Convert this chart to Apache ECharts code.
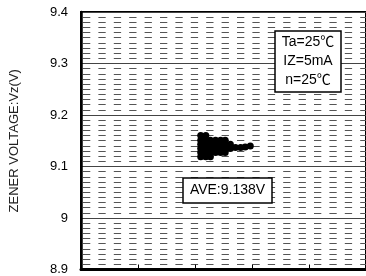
<!DOCTYPE html>
<html>
<head>
<meta charset="utf-8">
<script src="https://cdn.jsdelivr.net/npm/echarts@6/dist/echarts.min.js"></script>
<style>
html,body{margin:0;padding:0;background:#fff;}
#c{width:366px;height:276px;}
</style>
</head>
<body>
<div id="c"></div>
<script>
// y-axis ticks
const yMin = 8.9, yMax = 9.4, yStep = 0.1;
const yTickLabels = ['8.9', '9', '9.1', '9.2', '9.3', '9.4'];
const xMin = 0, xMax = 5, xStep = 1;

// measured points (x position in plot units, Vz in volts)
const dotX = [
  2.10, 2.19,
  2.10, 2.19, 2.27, 2.36, 2.45, 2.53,
  2.10, 2.19, 2.27, 2.36, 2.45, 2.53, 2.62,
  2.10, 2.19, 2.27, 2.36, 2.45, 2.53, 2.62, 2.71, 2.80, 2.88,
  2.10, 2.19, 2.27, 2.36, 2.45, 2.53,
  2.10, 2.19, 2.27,
  2.97
];
const dotY = [
  9.160, 9.160,
  9.151, 9.151, 9.151, 9.151, 9.151, 9.151,
  9.143, 9.143, 9.143, 9.143, 9.143, 9.143, 9.143,
  9.135, 9.135, 9.135, 9.135, 9.135, 9.135, 9.135, 9.137, 9.137, 9.138,
  9.127, 9.127, 9.127, 9.127, 9.127, 9.127,
  9.119, 9.119, 9.119,
  9.140
];

const condLines = ['Ta=25℃', 'IZ=5mA', 'n=25℃'];
const aveText = 'AVE:9.138V';
const yName = 'ZENER VOLTAGE:Vz(V)';

const font = '"Liberation Sans", Arial, "Noto Sans CJK JP", sans-serif';
const chart = echarts.init(document.getElementById('c'), null, {renderer: 'canvas'});

chart.setOption({
  animation: false,
  backgroundColor: '#fff',
  grid: {left: 81, top: 12, width: 288, height: 258, show: true, borderColor: '#000', borderWidth: 2, backgroundColor: 'transparent'},
  xAxis: {
    type: 'value', min: xMin, max: xMax, interval: xStep,
    axisLine: {show: true, onZero: false, lineStyle: {color: '#000', width: 3}},
    axisTick: {show: true, inside: true, length: 5, lineStyle: {color: '#000', width: 1}},
    axisLabel: {show: false},
    splitLine: {show: false}
  },
  yAxis: {
    type: 'value', min: yMin, max: yMax, interval: yStep,
    name: yName, nameLocation: 'middle', nameGap: 60, nameRotate: 90,
    nameTextStyle: {fontFamily: font, fontSize: 13, color: '#222'},
    axisLine: {show: true, lineStyle: {color: '#000', width: 2.5}},
    axisTick: {show: false},
    axisLabel: {
      margin: 13, fontFamily: font, fontSize: 13, color: '#000',
      formatter: function (v) { return yTickLabels[Math.round((v - yMin) / yStep)]; }
    },
    splitLine: {show: true, lineStyle: {color: '#444', width: 1}},
    minorTick: {show: false, splitNumber: 10},
    minorSplitLine: {show: true, lineStyle: {color: '#555', width: 1, type: [7.3, 8.1], dashOffset: -2}}
  },
  series: [{
    type: 'scatter',
    symbol: 'circle',
    symbolSize: 7,
    itemStyle: {color: '#000', opacity: 1},
    data: dotX.map((x, i) => [x, dotY[i]]),
    z: 5
  }],
  graphic: [
    {type: 'rect', shape: {x: 275, y: 31, width: 66, height: 61}, style: {fill: '#fff', stroke: '#000', lineWidth: 1.5}, z: 10},
    {type: 'text', x: 308, y: 61, style: {text: condLines.join('\n'), font: '14px ' + font, fill: '#000', align: 'center', verticalAlign: 'middle', lineHeight: 19}, z: 11},
    {type: 'rect', shape: {x: 183, y: 178, width: 89, height: 25}, style: {fill: '#fff', stroke: '#000', lineWidth: 1.5}, z: 10},
    {type: 'text', x: 227.5, y: 190.5, style: {text: aveText, font: '14px ' + font, fill: '#000', align: 'center', verticalAlign: 'middle'}, z: 11}
  ]
});
</script>
</body>
</html>
